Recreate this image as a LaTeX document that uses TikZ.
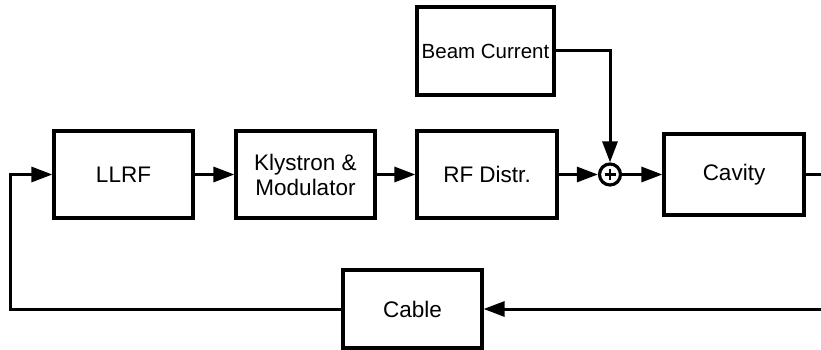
\documentclass[tikz,border=0pt]{standalone}
\usepackage{fontspec}
\setmainfont{Liberation Sans}
\usetikzlibrary{arrows.meta}
\begin{document}
\begin{tikzpicture}[x=1pt,y=-1pt,
  blk/.style={draw=black,line width=3.2pt,rectangle,align=center,inner sep=0pt,
    font=\fontsize{22.5}{25}\selectfont},
  conn/.style={line width=3pt,-{Triangle[length=21pt,width=15pt]}}]
\useasboundingbox (0,0) rectangle (821,350);
\node[blk,minimum width=139pt,minimum height=87pt] (llrf) at (123.5,174.5) {LLRF};
\node[blk,minimum width=139pt,minimum height=87pt] (kly) at (305.5,174.5) {Klystron \&\\Modulator};
\node[blk,minimum width=140pt,minimum height=87pt] (rfd) at (487,174.5) {RF Distr.};
\node[blk,minimum width=137pt,minimum height=88pt,font=\fontsize{20.5}{24}\selectfont] (beam) at (485.5,51) {Beam Current};
\node[blk,minimum width=140pt,minimum height=81pt] (cav) at (734,174.5) {Cavity};
\node[blk,minimum width=139pt,minimum height=78pt] (cable) at (412.5,309) {Cable};
\node[draw=black,line width=3.2pt,circle,minimum size=21pt,inner sep=0pt] (sum) at (610,174.5) {};
\draw[line width=2.2pt] ([xshift=-5.5pt]sum.center) -- ([xshift=5.5pt]sum.center);
\draw[line width=2.2pt] ([yshift=-5.5pt]sum.center) -- ([yshift=5.5pt]sum.center);
\coordinate (rt) at (830,309);
\coordinate (lt) at (10,174.5);
\draw[conn] (llrf) -- (kly);
\draw[conn] (kly) -- (rfd);
\draw[conn] (rfd) -- (sum);
\draw[conn] (sum) -- (cav);
\draw[conn] (beam.east) -| (sum.north);
\draw[conn] (cav.east) -| (rt) -- (cable.east);
\draw[conn] (cable.west) -| (lt) -- (llrf.west);
\end{tikzpicture}
\end{document}
